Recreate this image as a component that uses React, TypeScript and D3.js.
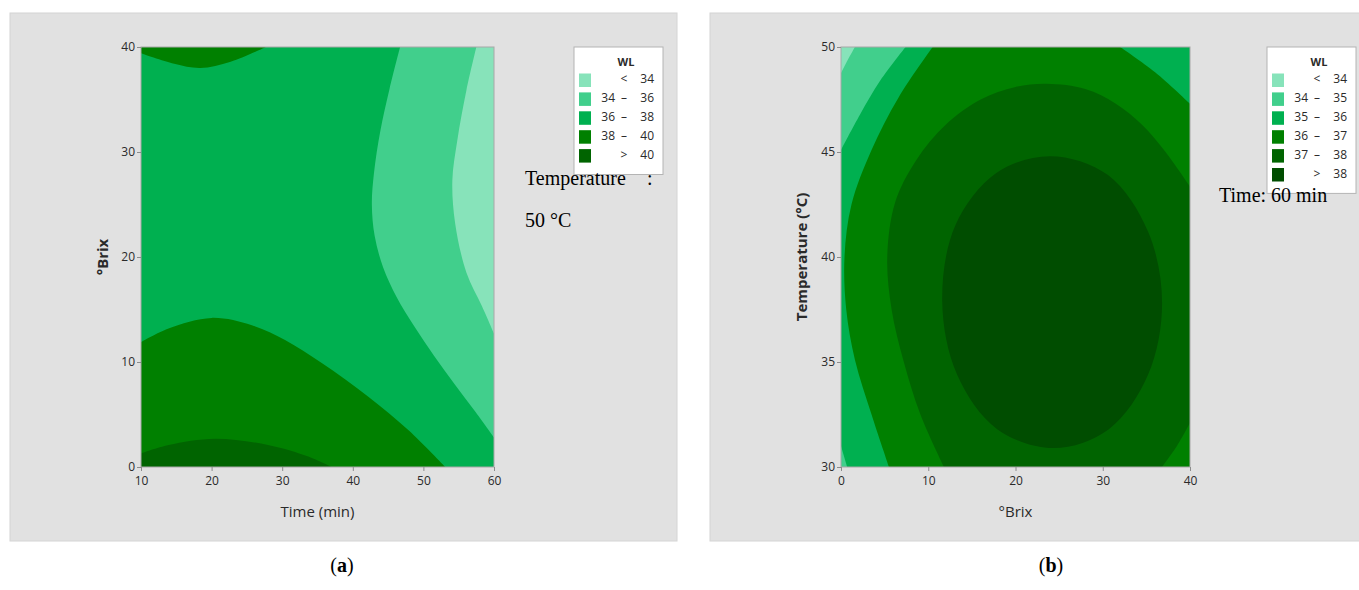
import React, { useRef, useEffect } from "react";
import * as d3 from "d3";

// panel (a): WL vs time and °Brix, temperature held at 50 °C
const aTimeTicks = [10, 20, 30, 40, 50, 60];
const aBrixTicks = [0, 10, 20, 30, 40];
const aLegendLo = [null, 34, 36, 38, 40];
const aLegendHi = [34, 36, 38, 40, null];
// contour boundaries, [time, brix]
const aLt34 = [[57.5, 40], [56.1, 35.9], [54.8, 31.1], [54.1, 27.3], [54.5, 23.2], [56.1, 18.5], [58.3, 15.3], [60, 12.7]];
const a34to36 = [[46.7, 40], [45.2, 36], [43.9, 32], [43.0, 28], [42.7, 25], [43.1, 22], [44.3, 19], [46.2, 16.2], [48.7, 13.4], [51.5, 10.6], [54.4, 7.9], [57.2, 5.4], [60, 2.8]];
const a38to40Top = [[10, 39.4], [14.7, 38.4], [18.4, 38.0], [22.7, 38.6], [27.7, 40]];
const a38to40Bottom = [[10, 11.9], [13.9, 13.2], [20, 14.2], [25.7, 13.5], [30.4, 12.1], [35.6, 9.9], [42.2, 6.7], [47.9, 3.5], [53.1, 0]];
const aOver40 = [[10, 1.3], [13.9, 2.1], [20.5, 2.7], [28, 2.1], [33.7, 1.0], [37, 0]];

// panel (b): WL vs °Brix and temperature, time held at 60 min
const bBrixTicks = [0, 10, 20, 30, 40];
const bTempTicks = [30, 35, 40, 45, 50];
const bLegendLo = [null, 34, 35, 36, 37, 38];
const bLegendHi = [34, 35, 36, 37, 38, null];
// [brix, temperature]
const bLt34 = [[1.6, 50], [0.8, 49.4], [0, 48.75]];
const b34to35Top = [[7.4, 50], [4.5, 48.4], [2.2, 46.8], [0, 45.1]];
const b34to35Bottom = [[0, 31], [0.7, 30]];
const b36to37Left = [[5.5, 30], [3.5, 32.5], [1.6, 35.1], [0.6, 37.5], [0.4, 40], [1.2, 42.5], [3.5, 45.1], [6.6, 47.6], [10.5, 50]];
const b36to37Right = [[32, 50], [36, 48.8], [40, 47.3]];
const b37to38Main = [[11.8, 30], [9.1, 32.5], [7.2, 35], [5.8, 37.5], [5.3, 40], [6.2, 42.6], [8.6, 44.6], [12.0, 46.3], [16, 47.5], [20, 48.1], [23.6, 48.25], [28, 48.0], [31.5, 47.3], [34.5, 46.3], [37.2, 45], [40, 43.35]];
const b37to38Corner = [[40, 32.1], [38.5, 31], [36.8, 30]];
const bOver38 = [[36.8, 37.8], [35.2, 41.2], [30.6, 43.9], [24.0, 44.8], [17.8, 44.0], [13.1, 41.5], [11.6, 37.9], [13.3, 34.4], [17.9, 31.8], [24.4, 30.9], [30.7, 31.8], [35.2, 34.4]];

const greens = ["#87e3ba", "#41cf8c", "#00b050", "#008000", "#006400", "#004d00"];
const sans = "'Liberation Sans Narrow', 'Open Sans', sans-serif";
const serif = "'Liberation Serif', 'Times New Roman', serif";

function drawPanel(svg, cfg) {
  const { box, plot, xDomain, yDomain, xTicks, yTicks, base, regions, legend, id } = cfg;

  svg.append("rect")
    .attr("x", box[0]).attr("y", box[1])
    .attr("width", box[2] - box[0]).attr("height", box[3] - box[1])
    .attr("fill", "#e1e1e1").attr("stroke", "#d4d4d4");

  const x = d3.scaleLinear().domain(xDomain).range([plot.left, plot.right]);
  const y = d3.scaleLinear().domain(yDomain).range([plot.bottom, plot.top]);

  svg.append("clipPath").attr("id", id)
    .append("rect")
    .attr("x", plot.left).attr("y", plot.top)
    .attr("width", plot.right - plot.left).attr("height", plot.bottom - plot.top);

  const g = svg.append("g").attr("clip-path", `url(#${id})`);
  g.append("rect")
    .attr("x", plot.left).attr("y", plot.top)
    .attr("width", plot.right - plot.left).attr("height", plot.bottom - plot.top)
    .attr("fill", greens[base]);

  const open = d3.line().x(d => x(d[0])).y(d => y(d[1])).curve(d3.curveCatmullRom.alpha(0.5));
  const closed = d3.line().x(d => x(d[0])).y(d => y(d[1])).curve(d3.curveCatmullRomClosed.alpha(0.5));

  regions.forEach(r => {
    let d;
    if (r.closed) {
      d = closed(r.curves[0]);
    } else {
      d = r.curves.map((c, i) => (i === 0 ? open(c) : open(c).replace(/^M/, "L"))).join("");
      (r.corners || []).forEach(p => { d += `L${x(p[0])},${y(p[1])}`; });
      d += "Z";
    }
    g.append("path").attr("d", d).attr("fill", greens[r.level]);
  });

  svg.append("rect")
    .attr("x", plot.left).attr("y", plot.top)
    .attr("width", plot.right - plot.left).attr("height", plot.bottom - plot.top)
    .attr("fill", "none").attr("stroke", "#a8a8a8");

  const xAxis = svg.append("g")
    .attr("transform", `translate(0,${plot.bottom})`)
    .call(d3.axisBottom(x).tickValues(xTicks).tickSize(4).tickPadding(5));
  const yAxis = svg.append("g")
    .attr("transform", `translate(${plot.left},0)`)
    .call(d3.axisLeft(y).tickValues(yTicks).tickSize(4).tickPadding(2));
  [xAxis, yAxis].forEach(a => {
    a.select(".domain").remove();
    a.selectAll("line").attr("stroke", "#8c8c8c");
    a.selectAll("text").attr("fill", "#2a2a2a").style("font-family", sans).style("font-size", "12px");
  });

  // axis titles
  svg.append("text")
    .attr("x", (plot.left + plot.right) / 2).attr("y", 513)
    .attr("text-anchor", "middle").attr("dominant-baseline", "middle")
    .style("font-family", sans).style("font-size", "15px").attr("fill", "#2a2a2a")
    .text(cfg.xTitle);
  svg.append("text")
    .attr("transform", `translate(${cfg.yTitleX},257) rotate(-90)`)
    .attr("text-anchor", "middle").attr("dominant-baseline", "middle")
    .style("font-family", sans).style("font-size", "15px").style("font-weight", "bold").attr("fill", "#2a2a2a")
    .text(cfg.yTitle);

  // legend
  const lx = legend.x, ly = 47, rowH = 18.9;
  const n = legend.lo.length;
  svg.append("rect")
    .attr("x", lx).attr("y", ly)
    .attr("width", 89).attr("height", 33 + n * rowH)
    .attr("fill", "#fff").attr("stroke", "#b4b4b4");
  svg.append("text")
    .attr("x", lx + 52).attr("y", ly + 16)
    .attr("text-anchor", "middle").attr("dominant-baseline", "middle")
    .style("font-family", sans).style("font-size", "11px").style("font-weight", "bold").attr("fill", "#2a2a2a")
    .text("WL");
  legend.lo.forEach((lo, i) => {
    const hi = legend.hi[i];
    const cy = ly + 33 + i * rowH;
    svg.append("rect")
      .attr("x", lx + 5).attr("y", cy - 6.5)
      .attr("width", 12).attr("height", 13.5)
      .attr("fill", greens[i]);
    const t = (tx, s, anchor) => svg.append("text")
      .attr("x", tx).attr("y", cy)
      .attr("text-anchor", anchor).attr("dominant-baseline", "middle")
      .style("font-family", sans).style("font-size", "12px").attr("fill", "#2a2a2a")
      .text(s);
    if (lo === null) {
      t(lx + 50, "<", "middle");
      t(lx + 80, String(hi), "end");
    } else if (hi === null) {
      t(lx + 50, ">", "middle");
      t(lx + 80, String(lo), "end");
    } else {
      t(lx + 41, String(lo), "end");
      t(lx + 50, "–", "middle");
      t(lx + 80, String(hi), "end");
    }
  });
}

export default function App() {
  const ref = useRef();

  useEffect(() => {
    const svg = d3.select(ref.current);
    svg.selectAll("*").remove();

    drawPanel(svg, {
      id: "clipA",
      box: [10, 13, 677, 541],
      plot: { left: 141, right: 494, top: 47, bottom: 467 },
      xDomain: [10, 60], yDomain: [0, 40],
      xTicks: aTimeTicks, yTicks: aBrixTicks,
      xTitle: "Time (min)", yTitle: "°Brix", yTitleX: 104,
      base: 2,
      regions: [
        { level: 1, curves: [a34to36], corners: [[60, 40]] },
        { level: 0, curves: [aLt34], corners: [[60, 40]] },
        { level: 3, curves: [a38to40Top], corners: [[10, 40]] },
        { level: 3, curves: [a38to40Bottom], corners: [[10, 0]] },
        { level: 4, curves: [aOver40], corners: [[10, 0]] },
      ],
      legend: { x: 574, lo: aLegendLo, hi: aLegendHi },
    });

    drawPanel(svg, {
      id: "clipB",
      box: [710, 13, 1365, 541],
      plot: { left: 841, right: 1190, top: 47, bottom: 467 },
      xDomain: [0, 40], yDomain: [30, 50],
      xTicks: bBrixTicks, yTicks: bTempTicks,
      xTitle: "°Brix", yTitle: "Temperature (°C)", yTitleX: 803,
      base: 2,
      regions: [
        { level: 1, curves: [b34to35Top], corners: [[0, 50]] },
        { level: 0, curves: [bLt34], corners: [[0, 50]] },
        { level: 1, curves: [b34to35Bottom], corners: [[0, 30]] },
        { level: 3, curves: [b36to37Left, b36to37Right], corners: [[40, 30]] },
        { level: 4, curves: [b37to38Main, b37to38Corner] },
        { level: 5, curves: [bOver38], closed: true },
      ],
      legend: { x: 1267, lo: bLegendLo, hi: bLegendHi },
    });

    // condition notes beside the legends
    const note = (tx, ty, s) => svg.append("text")
      .attr("x", tx).attr("y", ty).attr("dominant-baseline", "middle")
      .style("font-family", serif).style("font-size", "20px").attr("fill", "#000")
      .text(s);
    note(525, 180, "Temperature");
    note(647, 180, ":");
    note(525, 222, "50 °C");
    note(1219, 197, "Time: 60 min");

    // captions
    [["a", 342], ["b", 1051]].forEach(([c, cx]) => {
      const t = svg.append("text")
        .attr("x", cx).attr("y", 567)
        .attr("text-anchor", "middle").attr("dominant-baseline", "middle")
        .style("font-family", serif).style("font-size", "20px").attr("fill", "#000");
      t.append("tspan").text("(");
      t.append("tspan").style("font-weight", "bold").text(c);
      t.append("tspan").text(")");
    });
  }, []);

  return (
    <svg ref={ref} width={1359} height={590}
      style={{ position: "absolute", left: 0, top: 0, background: "#fff" }} />
  );
}
